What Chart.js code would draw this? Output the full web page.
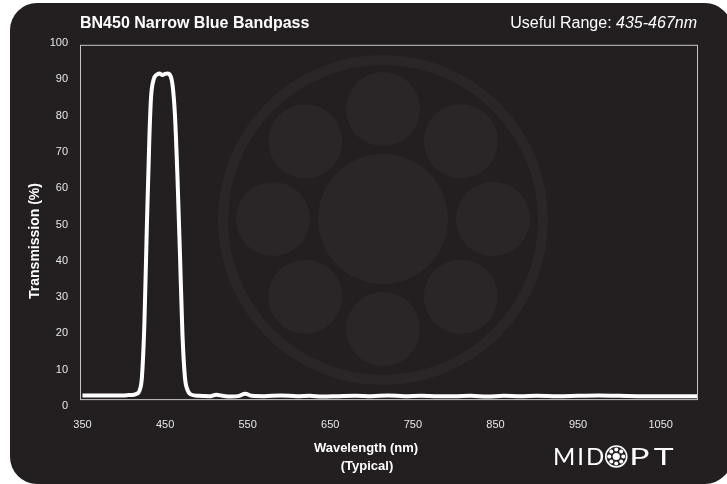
<!DOCTYPE html>
<html>
<head>
<meta charset="utf-8">
<title>BN450 Narrow Blue Bandpass</title>
<script src="https://cdn.jsdelivr.net/npm/chart.js@4.4.1/dist/chart.umd.min.js"></script>
<style>
  html, body { margin: 0; padding: 0; background: #fff; }
  #wrap { width: 727px; height: 484px; }
</style>
</head>
<body>
<div id="wrap"><canvas id="chart"></canvas></div>
<script>
// transmission curve
const wavelengths = [350, 370, 390, 405, 412, 416, 419, 422, 425, 428, 431, 433, 436, 440, 443, 447, 450, 453, 456, 459, 462, 465, 468, 471, 474, 477, 481, 490, 505, 512, 520, 530, 540, 547, 555, 570, 590, 610, 625, 640, 660, 680, 700, 720, 740, 760, 780, 800, 820, 840, 860, 880, 900, 925, 950, 975, 1000, 1030, 1060, 1094];
const transmission = [2.9, 2.9, 2.9, 3.0, 3.1, 3.4, 4.2, 8, 23, 50, 74, 85, 89.8, 91.3, 91.6, 91.2, 91.5, 91.6, 91.2, 88.5, 80, 63, 42, 20, 8, 4.5, 3.2, 2.8, 2.7, 3.1, 2.8, 2.6, 2.8, 3.4, 2.8, 2.7, 2.9, 2.7, 2.8, 2.6, 2.7, 2.8, 2.7, 2.9, 2.7, 2.8, 2.7, 2.7, 2.8, 2.6, 2.8, 2.7, 2.8, 2.7, 2.8, 2.9, 2.8, 2.7, 2.7, 2.7];
const xTicks = [350, 450, 550, 650, 750, 850, 950, 1050];
const yTicks = [0, 10, 20, 30, 40, 50, 60, 70, 80, 90, 100];

const titleText = 'BN450 Narrow Blue Bandpass';
const rangeLabel = 'Useful Range: ';
const rangeValue = '435-467nm';

const FONT = '"Liberation Sans", Arial, sans-serif';
const BG = '#231f20';

// dark card + faint logo watermark behind the plot
const backdrop = {
    id: 'backdrop',
    beforeDraw(chart) {
        const ctx = chart.ctx;
        ctx.save();
        ctx.fillStyle = '#fff';
        ctx.fillRect(0, 0, chart.width, chart.height);
        ctx.fillStyle = BG;
        ctx.beginPath();
        ctx.roundRect(10, 3, 722, 481, 27);
        ctx.fill();

        const cx = 383, cy = 220;
        ctx.strokeStyle = 'rgba(255,255,255,0.035)';
        ctx.fillStyle = 'rgba(255,255,255,0.035)';
        ctx.lineWidth = 10;
        ctx.beginPath();
        ctx.arc(cx, cy, 160, 0, Math.PI * 2);
        ctx.stroke();
        ctx.beginPath();
        ctx.arc(cx, cy - 1, 65, 0, Math.PI * 2);
        ctx.fill();
        for (let k = 0; k < 8; k++) {
            const a = k * Math.PI / 4;
            ctx.beginPath();
            ctx.arc(cx + 110 * Math.cos(a), cy - 1 + 110 * Math.sin(a), 37, 0, Math.PI * 2);
            ctx.fill();
        }
        ctx.restore();
    }
};

// thin frame round the plot
const frame = {
    id: 'frame',
    beforeDatasetsDraw(chart) {
        const { ctx, chartArea, scales } = chart;
        const top = scales.y.getPixelForValue(99.5);
        const bottom = scales.y.getPixelForValue(1.9);
        ctx.save();
        ctx.strokeStyle = '#c4c4c4';
        ctx.lineWidth = 1;
        ctx.strokeRect(chartArea.left + 0.5, top + 0.5, chartArea.right - chartArea.left, bottom - top);
        ctx.restore();
    }
};

function drawLogo(ctx, x, y) {
    ctx.font = '24px Lato, ' + FONT;
    ctx.textBaseline = 'alphabetic';
    ctx.textAlign = 'left';
    ctx.fillStyle = '#fff';
    ctx.letterSpacing = '2px';
    ctx.fillText('MID', x, y);
    const w = ctx.measureText('MID').width;
    const cx = x + w + 10, cy = y - 8.5;
    ctx.strokeStyle = '#fff';
    ctx.lineWidth = 1.6;
    ctx.beginPath();
    ctx.arc(cx, cy, 10.5, 0, Math.PI * 2);
    ctx.stroke();
    ctx.beginPath();
    ctx.arc(cx, cy, 3.6, 0, Math.PI * 2);
    ctx.fill();
    for (let k = 0; k < 8; k++) {
        const a = k * Math.PI / 4;
        ctx.beginPath();
        ctx.arc(cx + 7 * Math.cos(a), cy + 7 * Math.sin(a), 2, 0, Math.PI * 2);
        ctx.fill();
    }
    // the brand's P and T are wide, stretch them a bit
    ctx.letterSpacing = '3px';
    ctx.translate(cx + 13, y);
    ctx.scale(1.4, 1);
    ctx.fillText('PT', 0, 0);
    ctx.setTransform(1, 0, 0, 1, 0, 0);
    ctx.letterSpacing = '0px';
}

// titles and brand text
const labels = {
    id: 'labels',
    afterDraw(chart) {
        const { ctx, chartArea } = chart;
        ctx.save();
        ctx.fillStyle = '#fff';
        ctx.textBaseline = 'middle';

        ctx.font = 'bold 16px ' + FONT;
        ctx.textAlign = 'left';
        ctx.fillText(titleText, chartArea.left, 24);

        ctx.font = 'italic 16px ' + FONT;
        const vw = ctx.measureText(rangeValue).width;
        ctx.textAlign = 'right';
        ctx.fillText(rangeValue, chartArea.right, 24);
        ctx.font = '16px ' + FONT;
        ctx.fillText(rangeLabel, chartArea.right - vw, 24);

        ctx.font = 'bold 13px ' + FONT;
        ctx.textAlign = 'center';
        ctx.fillText('Wavelength (nm)', 366, 448);
        ctx.fillText('(Typical)', 367, 466);

        ctx.font = 'bold 14px ' + FONT;
        ctx.translate(35, 241);
        ctx.rotate(-Math.PI / 2);
        ctx.fillText('Transmission (%)', 0, 0);
        ctx.setTransform(1, 0, 0, 1, 0, 0);
        ctx.restore();

        ctx.save();
        drawLogo(ctx, 553, 465);
        ctx.restore();
    }
};

const ctx = document.getElementById('chart').getContext('2d');

new Chart(ctx, {
    type: 'line',
    data: {
        datasets: [{
            data: wavelengths.map((w, i) => ({ x: w, y: transmission[i] })),
            borderColor: '#fff',
            borderWidth: 4,
            pointRadius: 0,
            cubicInterpolationMode: 'monotone',
            fill: false
        }]
    },
    options: {
        responsive: true,
        maintainAspectRatio: false,
        animation: false,
        layout: { padding: { top: 43, right: 30, bottom: 0, left: 0 } },
        plugins: {
            legend: { display: false },
            tooltip: { enabled: false }
        },
        scales: {
            x: {
                type: 'linear',
                min: 347,
                max: 1094,
                afterBuildTicks: (scale) => { scale.ticks = xTicks.map(v => ({ value: v })); },
                afterFit: (scale) => { scale.height = 78; },
                grid: { display: false, drawTicks: false },
                border: { display: false },
                ticks: {
                    color: '#e6e6e6',
                    font: { family: FONT, size: 11 },
                    padding: 12,
                    maxRotation: 0,
                    autoSkip: false,
                    callback: (v) => String(v)
                }
            },
            y: {
                min: 0,
                max: 100,
                afterBuildTicks: (scale) => { scale.ticks = yTicks.map(v => ({ value: v })); },
                afterFit: (scale) => { scale.width = 80; },
                grid: { display: false, drawTicks: false },
                border: { display: false },
                ticks: {
                    color: '#e6e6e6',
                    font: { family: FONT, size: 11 },
                    padding: 12
                }
            }
        }
    },
    plugins: [backdrop, frame, labels]
});
</script>
</body>
</html>
